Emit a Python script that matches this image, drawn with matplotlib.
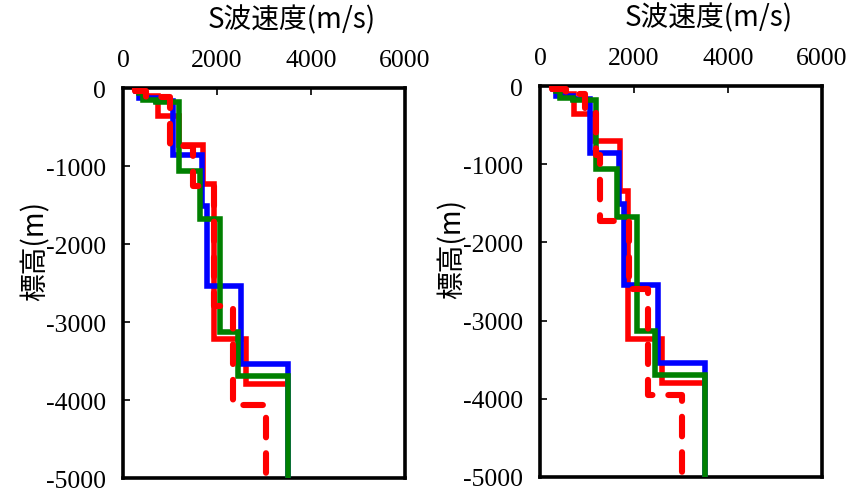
import matplotlib
matplotlib.use('Agg')
import matplotlib.pyplot as plt
import numpy as np

# layer velocities (m/s) and layer bottom elevations (m)
blue_v = [280, 350, 700, 1065, 1680, 1790, 2510, 3510]
blue_z = [-40, -130, -170, -860, -1510, -2540, -3540, -5000]
green_v = [350, 420, 700, 1190, 1640, 2070, 2450, 3510]
green_z = [-60, -150, -180, -1065, -1680, -3130, -3690, -5000]

left_red_v = [300, 450, 745, 1200, 1700, 1930, 2620, 3450]
left_red_z = [-20, -100, -360, -730, -1230, -3220, -3800, -3800]
left_dash_v = [250, 480, 1000, 1490, 1930, 2340, 3050]
left_dash_z = [-40, -110, -740, -1250, -2790, -4060, -5000]

right_red_v = [300, 450, 720, 1170, 1700, 1870, 2600, 3420]
right_red_z = [-20, -100, -360, -700, -1340, -3230, -3800, -3800]
right_dash_v = [250, 550, 950, 1190, 1280, 1900, 2300, 3030]
right_dash_z = [-40, -100, -300, -880, -1720, -2600, -3950, -5000]

xticks = [0, 2000, 4000, 6000]
yticks = [0, -1000, -2000, -3000, -4000, -5000]
xlabel = 'S波速度(m/s)'
ylabel = '標高(m)'


def steps(vs, zs):
    x, y = [], []
    top = 0
    for v, b in zip(vs, zs):
        x += [v, v]
        y += [top, b]
        top = b
    return x, y


fig = plt.figure(figsize=(8.49, 4.89), dpi=100)
axes = [fig.add_axes([123 / 849, 10 / 489, 282 / 849, 390 / 489]),
        fig.add_axes([540 / 849, 11 / 489, 282 / 849, 391 / 489])]
reds = [(left_red_v, left_red_z, left_dash_v, left_dash_z),
        (right_red_v, right_red_z, right_dash_v, right_dash_z)]
cjk = ['Noto Sans CJK JP', 'DejaVu Sans']

lw = 4.0
for ax, (rv, rz, dv, dz) in zip(axes, reds):
    ax.plot(*steps(rv, rz), color='#ff0000', lw=lw, solid_joinstyle='miter', zorder=2)
    ax.plot(*steps(blue_v, blue_z), color='#0000ff', lw=lw, solid_joinstyle='miter', zorder=3)
    ax.plot(*steps(green_v, green_z), color='#008000', lw=lw, solid_joinstyle='miter', zorder=4)
    ax.plot(*steps(dv, dz), color='#ff0000', lw=lw + 0.4, linestyle=(0, (3.2, 2.6)),
            dash_capstyle='round', zorder=5)

    ax.set_xlim(0, 6000)
    ax.set_ylim(-5000, 0)
    ax.xaxis.set_ticks_position('top')
    ax.set_xticks(xticks)
    ax.set_xticklabels([str(t) for t in xticks])
    ax.set_yticks(yticks)
    ax.set_yticklabels([str(t) for t in yticks])
    ax.tick_params(axis='both', direction='in', length=5, width=1.2, pad=12,
                   labelsize=18.5)
    for lab in ax.get_xticklabels() + ax.get_yticklabels():
        lab.set_family('Liberation Serif')
    for sp in ax.spines.values():
        sp.set_linewidth(2.6)
    ax.xaxis.set_label_position('top')
    ax.set_xlabel(xlabel, family=cjk, fontsize=20, va='center')
    ax.xaxis.set_label_coords(0.6, 1.175)
    ax.set_ylabel(ylabel, family=cjk, fontsize=20, va='center')
    ax.yaxis.set_label_coords(-0.31, 0.585)

fig.savefig('out.png', dpi=100)
